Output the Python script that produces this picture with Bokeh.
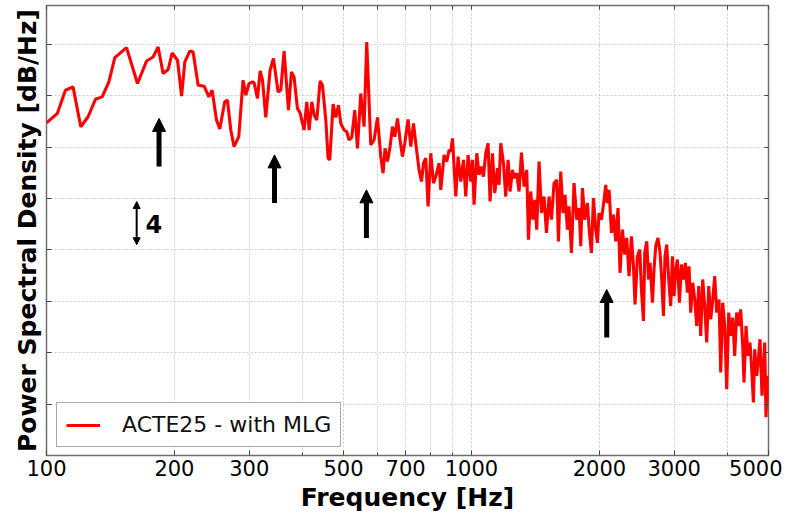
from bokeh.plotting import figure
from bokeh.models import (FixedTicker, LogAxis, LinearAxis, Arrow, NormalHead,
                          Label, Range1d)
from bokeh.embed import file_html
from bokeh.resources import INLINE

# ---- data: frequency bins [Hz] and PSD [dB/Hz, relative] ----
freq_low = [100, 106.1, 110.8, 115.5, 120.4, 125.3, 130.4, 135.2, 140.2, 144.8,
            154.3, 163.7, 172.0, 178.2, 183.1, 188.1, 193.3, 197.5, 203.4, 207.9,
            211.6, 217.4, 221.3, 227.4, 234.9, 241.0, 245.3, 251.2, 255.7, 262.7,
            266.6, 271.4, 276.3, 283.4, 290.1]
psd_low = [32.36, 33.28, 35.53, 35.85, 31.98, 32.95, 34.66, 34.88, 36.34, 38.70,
           39.67, 36.18, 38.37, 38.76, 39.73, 37.15, 37.54, 39.15, 38.44, 34.95,
           38.28, 39.34, 39.24, 36.02, 35.92, 34.88, 35.53, 32.63, 31.75, 34.40,
           34.56, 31.66, 30.04, 31.01, 36.50]

freq_mid = [294.4, 299.7, 305.3, 308.0, 313.7, 318.2, 322.3, 328.1, 335.8, 342.0,
            350.7, 355.9, 362.3, 371.0, 377.1, 382.4, 389.5, 395.1, 403.7, 409.7,
            414.9, 421.0, 426.3, 432.5, 440.4, 446.1, 454.2, 459.8, 464.1, 472.5,
            479.4, 486.5, 492.6, 501.4, 508.8, 515.2, 522.8, 531.3, 539.2, 548.9,
            558.8, 567.0, 579.5, 590.0, 601.0, 611.8, 619.4, 626.1, 634.4, 643.4,
            651.8, 660.0, 669.8, 679.2, 688.0, 696.8, 709.3, 719.8, 730.4, 739.5,
            752.8, 762.8, 771.1, 780.7, 790.5, 802.1, 814.0, 824.2, 839.1]
psd_mid = [35.05, 36.18, 36.34, 36.24, 34.73, 37.40, 36.50, 32.89, 37.47, 38.61,
           35.37, 35.53, 39.34, 33.60, 37.31, 36.82, 33.76, 33.33, 31.66, 34.40,
           31.66, 34.40, 33.11, 32.63, 36.43, 36.02, 32.63, 28.92, 28.75, 34.18,
           32.89, 34.08, 32.31, 31.66, 31.49, 30.69, 30.95, 33.60, 29.88, 35.21,
           31.98, 40.21, 30.20, 30.69, 32.89, 29.07, 27.46, 29.88, 28.59, 30.04,
           31.98, 31.01, 32.79, 30.69, 29.07, 30.37, 32.69, 30.04, 32.31, 30.37,
           27.78, 26.65, 28.43, 28.92, 24.23, 29.40, 26.49, 27.13, 28.43]

freq_khz1 = [846.9, 862.1, 874.8, 885.8, 894.0, 902.3, 910.2, 918.6, 930.1, 943.7,
             957.7, 969.6, 981.8, 996.3, 1005.5, 1014.2, 1029.2, 1042.1, 1055.6, 1067.1,
             1080.5, 1094.2, 1106.1, 1120.5, 1134.5, 1151.3, 1161.2, 1172.0, 1189.3, 1204.2,
             1219.3, 1232.5, 1248.8, 1259.5, 1278.1, 1294.2, 1311.0, 1329.8, 1349.3, 1361.8,
             1378.8, 1393.8, 1409.0, 1424.3, 1442.4, 1461.1, 1481.8, 1501.3, 1522.5, 1542.3,
             1564.4, 1587.3, 1602.0, 1622.1, 1642.4, 1660.3, 1682.2, 1696.6, 1719.0, 1743.3,
             1769.2, 1791.3, 1807.9, 1824.6, 1847.4, 1874.4, 1894.8, 1915.7, 1936.5, 1960.7,
             1978.8, 1995.7]
psd_khz1 = [25.84, 29.23, 28.59, 29.72, 29.55, 30.85, 28.10, 25.19, 29.07, 26.65,
            28.75, 25.19, 29.23, 26.65, 28.75, 24.39, 29.40, 27.30, 28.10, 27.13,
            29.40, 30.37, 24.71, 29.40, 25.52, 27.95, 26.33, 30.37, 28.43, 25.19,
            28.75, 25.68, 27.78, 26.98, 27.46, 25.68, 29.46, 26.16, 27.78, 21.00,
            25.68, 22.94, 24.87, 21.97, 28.59, 23.59, 25.19, 21.65, 25.19, 22.94,
            26.49, 26.81, 20.83, 27.62, 23.59, 25.36, 21.97, 24.23, 19.71, 26.49,
            22.94, 24.07, 20.35, 26.01, 22.94, 24.55, 21.65, 19.71, 25.04, 21.97,
            20.68, 23.59]

freq_high = [2022.9, 2051.2, 2070.2, 2087.0, 2107.7, 2135.0, 2158.3, 2185.3, 2212.6, 2236.7,
             2266.2, 2294.6, 2319.5, 2348.5, 2379.5, 2405.4, 2426.0, 2458.0, 2488.8, 2511.9,
             2539.2, 2557.4, 2585.2, 2609.1, 2631.4, 2666.2, 2689.0, 2713.9, 2747.8, 2778.2,
             2803.9, 2829.8, 2854.0, 2880.4, 2911.8, 2943.5, 2970.7, 2996.8, 3024.5, 3052.5,
             3085.7, 3119.3, 3153.2, 3187.5, 3222.2, 3250.5, 3280.6, 3316.3, 3352.4, 3388.9,
             3425.8, 3463.0, 3500.7, 3538.8, 3577.3, 3617.0, 3656.4, 3696.2, 3736.4, 3777.0,
             3824.2, 3859.6, 3901.6, 3944.1, 3987.0, 4030.4, 4074.2, 4118.5, 4163.3, 4208.6,
             4254.4, 4300.7, 4348.5, 4378.6, 4426.3, 4474.5, 4523.2, 4565.0, 4607.2, 4640.1,
             4690.6, 4734.0, 4775.6, 4827.5, 4864.3, 4898.0, 4933.0, 4970.7, 5000]
psd_high = [22.94, 24.87, 26.33, 24.55, 25.84, 21.65, 23.42, 20.83, 24.07, 17.77,
            21.97, 19.54, 21.16, 17.44, 21.32, 18.41, 14.70, 19.38, 20.03, 16.15,
            13.08, 19.71, 20.83, 17.12, 18.74, 14.86, 18.09, 20.35, 21.16, 19.71,
            17.12, 13.57, 19.38, 20.51, 17.12, 14.54, 19.38, 15.50, 18.09, 19.06,
            14.86, 18.58, 17.12, 18.74, 15.83, 18.41, 13.90, 16.80, 15.18, 12.60,
            16.47, 11.63, 17.12, 14.54, 10.99, 16.47, 13.25, 15.18, 17.44, 13.90,
            15.18, 8.08, 14.86, 12.60, 6.46, 13.90, 11.63, 13.41, 9.69, 13.90,
            12.60, 14.21, 10.66, 7.11, 12.60, 9.69, 10.99, 8.40, 5.17, 10.34,
            7.75, 9.37, 11.31, 5.81, 8.40, 10.99, 3.72, 7.75, 5.17]

series_label = "ACTE25 - with MLG"
x_tick_labels = [100, 200, 300, 500, 700, 1000, 2000, 3000, 5000]
x_minor_ticks = [400, 600, 800, 900, 4000]
x_grid_vals = [100, 200, 300, 400, 500, 600, 700, 800, 900, 1000, 2000, 3000, 4000, 5000]
y_grid_vals = [5, 10, 15, 20, 25, 30, 35, 40]

# annotation arrows (frequency of interest, tail / tip level in dB)
arrow_freq = [184, 344, 566, 2081]
arrow_tail = [28.10, 24.55, 21.16, 11.47]
arrow_tip = [32.79, 29.24, 25.84, 16.15]
scale_freq, scale_lo, scale_hi = 163, 20.5, 24.7
scale_text = "4"
scale_text_freq, scale_text_db = 179, 22.5

freq = freq_low + freq_mid + freq_khz1 + freq_high
psd = psd_low + psd_mid + psd_khz1 + psd_high

FONT = "DejaVu Sans"
TICK_COLOR = "#444444"

p = figure(width=782, height=514, x_axis_type="log",
           x_range=Range1d(100, 5000), y_range=Range1d(0, 43.77),
           output_backend="svg", toolbar_location=None,
           min_border_left=46, min_border_right=14, min_border_top=5, min_border_bottom=0)
p.background_fill_color = "white"
p.border_fill_color = "white"
p.outline_line_color = "#6f6f6f"
p.outline_line_width = 1.5

# grids
p.xgrid.ticker = FixedTicker(ticks=x_grid_vals)
p.ygrid.ticker = FixedTicker(ticks=y_grid_vals)
for g in (p.xgrid, p.ygrid):
    g.grid_line_color = "#cccccc"
    g.grid_line_dash = "2 2"
    g.grid_line_width = 1

# bottom axis
xa = p.xaxis[0]
xa.ticker = FixedTicker(ticks=x_tick_labels, minor_ticks=x_minor_ticks)
xa.major_label_overrides = {v: str(v) for v in x_tick_labels}
xa.axis_label = "Frequency [Hz]"
xa.axis_label_text_font = FONT
xa.axis_label_text_font_style = "bold"
xa.axis_label_text_font_size = "25px"
xa.axis_label_text_color = "black"
xa.axis_label_standoff = 4
xa.major_label_text_font = FONT
xa.major_label_text_font_size = "21px"
xa.major_label_text_color = "black"
xa.major_label_standoff = 4
xa.major_tick_in = 5
xa.major_tick_out = 0
xa.minor_tick_in = 3
xa.minor_tick_out = 0
xa.axis_line_color = None
xa.major_tick_line_color = TICK_COLOR
xa.minor_tick_line_color = TICK_COLOR

# left axis: ticks only (as minor ticks, so no tick labels) + axis title
ya = p.yaxis[0]
ya.ticker = FixedTicker(ticks=[], minor_ticks=y_grid_vals)
ya.axis_label = "Power Spectral Density [dB/Hz]"
ya.axis_label_text_font = FONT
ya.axis_label_text_font_style = "bold"
ya.axis_label_text_font_size = "25px"
ya.axis_label_text_color = "black"
ya.axis_label_standoff = 5
ya.major_tick_in = 0
ya.major_tick_out = 0
ya.minor_tick_in = 5
ya.minor_tick_out = 0
ya.axis_line_color = None
ya.minor_tick_line_color = TICK_COLOR

# top & right axes (tick marks only)
top = LogAxis(ticker=FixedTicker(ticks=[], minor_ticks=x_grid_vals),
              major_tick_in=0, major_tick_out=0, minor_tick_in=4, minor_tick_out=0,
              axis_line_color=None, minor_tick_line_color=TICK_COLOR)
p.add_layout(top, "above")
right = LinearAxis(ticker=FixedTicker(ticks=[], minor_ticks=y_grid_vals),
                   major_tick_in=0, major_tick_out=0, minor_tick_in=4, minor_tick_out=0,
                   axis_line_color=None, minor_tick_line_color=TICK_COLOR)
p.add_layout(right, "right")

# the PSD line
p.line(freq, psd, line_color="#ff0000", line_width=3.1, legend_label=series_label)

# arrows
for f, t0, t1 in zip(arrow_freq, arrow_tail, arrow_tip):
    p.add_layout(Arrow(end=NormalHead(size=13, fill_color="black", line_color="black", line_width=1),
                       x_start=f, y_start=t0, x_end=f, y_end=t1,
                       line_color="black", line_width=5))
p.add_layout(Arrow(start=NormalHead(size=7, fill_color="black", line_color="black"),
                   end=NormalHead(size=7, fill_color="black", line_color="black"),
                   x_start=scale_freq, y_start=scale_lo, x_end=scale_freq, y_end=scale_hi,
                   line_color="black", line_width=2))
p.add_layout(Label(x=scale_text_freq, y=scale_text_db, text=scale_text,
                   text_font=FONT, text_font_style="bold", text_font_size="24px",
                   text_align="center", text_baseline="middle", text_color="black"))

# legend
lg = p.legend[0]
lg.location = (10, 8)
lg.label_text_font = FONT
lg.label_text_font_size = "22px"
lg.label_text_color = "#111111"
lg.glyph_width = 34
lg.glyph_height = 20
lg.label_standoff = 22
lg.padding = 9
lg.spacing = 0
lg.margin = 0
lg.border_line_color = "#555555"
lg.border_line_width = 1.5
lg.background_fill_color = "white"
lg.background_fill_alpha = 1

open("out.html", "w").write(file_html(p, INLINE))
